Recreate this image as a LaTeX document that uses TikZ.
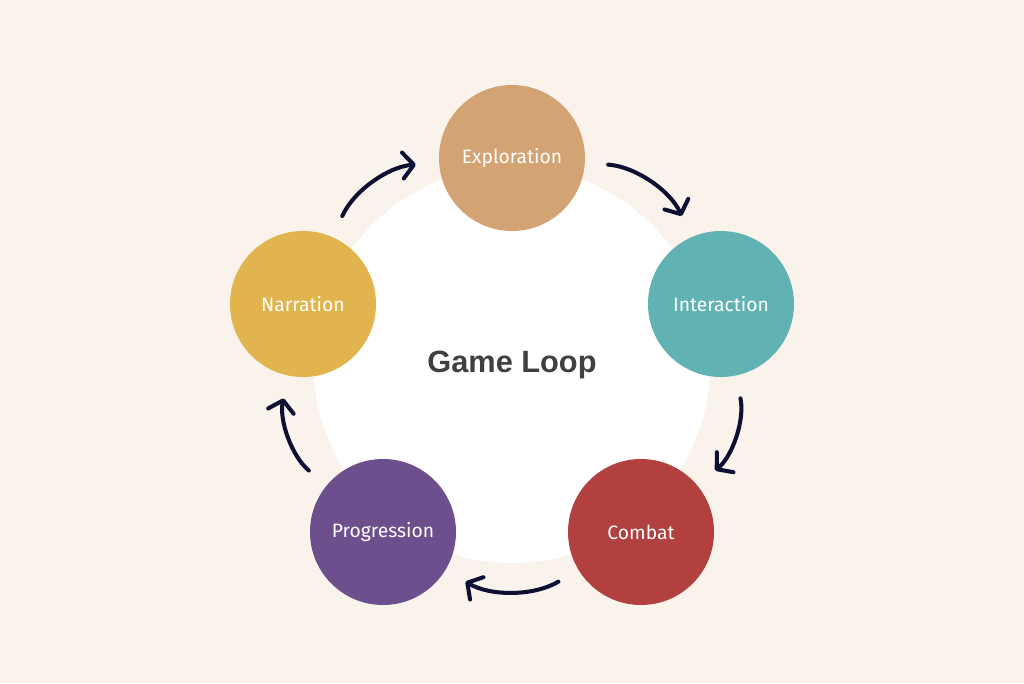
\documentclass[tikz,border=0pt]{standalone}
\usepackage{fontspec}
\setmainfont{Fira Sans}
\newfontfamily\titlefont{Liberation Sans}
\usetikzlibrary{arrows.meta}
\definecolor{paper}{HTML}{F9F3EC}
\definecolor{ink}{HTML}{0E1033}
\definecolor{explcol}{HTML}{D4A373}
\definecolor{intercol}{HTML}{61B3B3}
\definecolor{combcol}{HTML}{B2403E}
\definecolor{progcol}{HTML}{6C4F8C}
\definecolor{narrcol}{HTML}{E1B44D}

\begin{document}
\begin{tikzpicture}[x=0.2mm,y=-0.2mm,
  phase/.style={circle,minimum size=29.2mm,inner sep=0pt,text=white,font=\fontsize{11pt}{13pt}\selectfont},
  loopflow/.style={ink,line width=2.3pt,line cap=round,-{Straight Barb[length=2.2mm,width=5.2mm,round]},
    bend left=31,shorten <=4.6mm,shorten >=4.6mm}]
\useasboundingbox[fill=paper] (0,0) rectangle (1024,683);
\node[circle,fill=white,minimum size=79.2mm,inner sep=0pt,text=black!75,
  font=\titlefont\bfseries\fontsize{17.5pt}{20pt}\selectfont] (loop) at (512,365) {Game Loop};
\node[phase,fill=explcol] (expl) at (512,158) {Exploration};
\node[phase,fill=intercol] (inter) at (721,304) {Interaction};
\node[phase,fill=combcol] (comb) at (641,532) {Combat};
\node[phase,fill=progcol] (prog) at (383,532) {Progression};
\node[phase,fill=narrcol] (narr) at (303,304) {Narration};
\draw[loopflow] (expl) to (inter);
\draw[loopflow] (inter) to (comb);
\draw[loopflow] (comb) to (prog);
\draw[loopflow] (prog) to (narr);
\draw[loopflow] (narr) to (expl);
\end{tikzpicture}
\end{document}
